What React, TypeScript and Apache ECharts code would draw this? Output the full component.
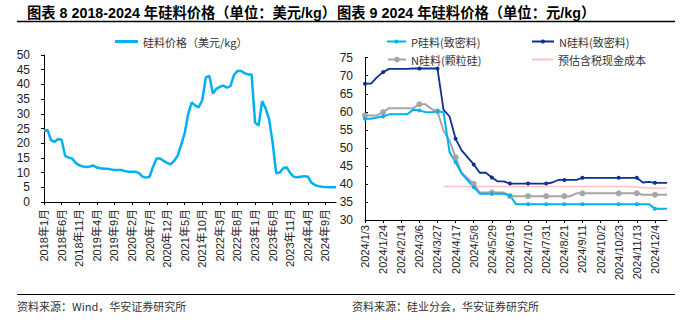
import React, { useEffect, useRef } from "react";
import * as echarts from "echarts";

// ---------- Left chart: 2018-2024 monthly polysilicon price (USD/kg) ----------
const leftYears = [2018, 2019, 2020, 2021, 2022, 2023, 2024];
const leftMonths = [1, 2, 3, 4, 5, 6, 7, 8, 9, 10, 11, 12];
const leftCategories: string[] = [];
leftYears.forEach((y) => leftMonths.forEach((m) => leftCategories.push(`${y}年${m}月`)));

const siliconPriceUSD = [
  24.1, 24.5, 21.0, 20.5, 21.4, 21.2, 15.7, 15.1, 14.8, 13.3, 12.5, 12.1,
  11.9, 12.1, 12.4, 11.7, 11.5, 11.3, 11.3, 11.1, 10.9, 10.9, 10.9, 10.5,
  10.3, 10.3, 10.3, 9.8, 8.6, 8.3, 8.6, 12.0, 14.8, 14.8, 14.0, 13.3,
  12.8, 14.0, 15.7, 19.5, 23.4, 30.0, 33.9, 32.8, 32.2, 34.7, 42.4, 42.9,
  36.9, 38.5, 39.2, 39.6, 38.9, 39.4, 43.2, 44.6, 44.6, 43.8, 43.4, 43.4,
  27.0, 26.0, 34.3, 31.8, 28.1, 20.0, 9.8, 10.0, 11.5, 11.8, 9.8, 8.6,
  8.4, 8.6, 8.8, 8.6, 6.6, 5.8, 5.4, 5.2, 5.1, 5.0, 5.0, 5.0,
];

// ---------- Right chart: 2024 weekly prices (CNY/kg) ----------
const weekDates = [
  "2024/1/3", "2024/1/10", "2024/1/17", "2024/1/24", "2024/1/31", "2024/2/7", "2024/2/14",
  "2024/2/21", "2024/2/28", "2024/3/6", "2024/3/13", "2024/3/20", "2024/3/27", "2024/4/3",
  "2024/4/10", "2024/4/17", "2024/4/24", "2024/5/1", "2024/5/8", "2024/5/15", "2024/5/22",
  "2024/5/29", "2024/6/5", "2024/6/12", "2024/6/19", "2024/6/26", "2024/7/3", "2024/7/10",
  "2024/7/17", "2024/7/24", "2024/7/31", "2024/8/7", "2024/8/14", "2024/8/21", "2024/8/28",
  "2024/9/4", "2024/9/11", "2024/9/18", "2024/9/25", "2024/10/2", "2024/10/9", "2024/10/16",
  "2024/10/23", "2024/10/30", "2024/11/6", "2024/11/13", "2024/11/20", "2024/11/27",
  "2024/12/4", "2024/12/11", "2024/12/18",
];

const pDense = [
  58.1, 58.1, 58.4, 58.7, 59.3, null, null, 59.3, 60.6, 60.4, 59.9, 59.9, 60.1, 59.9,
  48.8, 46.0, 42.9, null, 39.1, 37.3, 37.3, 37.3, 37.3, 37.3, 36.8, 34.4, 34.4, 34.4,
  34.4, 34.4, 34.4, 34.4, 34.4, 34.4, 34.4, 34.4, 34.4, 34.4, 34.4, null, 34.4, 34.4,
  34.4, 34.4, 34.4, 34.4, 34.4, 34.4, 33.1, 33.1, 33.1,
];

const nDense = [
  67.8, 67.8, 69.6, 71.0, 71.9, null, null, 71.9, 72.0, 72.0, 72.0, 72.0, 72.0, 60.6,
  58.7, 52.5, 49.3, null, 45.4, 43.1, 43.1, 41.8, 40.7, 40.7, 40.1, 40.1, 40.1, 40.1,
  40.1, 40.1, 40.1, 40.4, 41.1, 41.1, 41.1, 41.1, 41.7, 41.7, 41.7, null, 41.7, 41.7,
  41.7, 41.7, 41.7, 41.7, 40.4, 40.6, 40.3, 40.3, 40.3,
];

const nGranular = [
  59.0, 59.0, 59.0, 59.9, 61.0, null, null, 61.0, 61.0, 62.1, 62.1, 60.8, 60.1, 54.8,
  52.0, 47.4, 43.1, null, 40.0, 37.6, 37.6, 37.6, 37.6, 37.6, 36.6, 36.6, 36.6, 36.6,
  36.6, 36.6, 36.6, 36.6, 36.6, 36.6, 36.6, 37.4, 37.4, 37.4, 37.4, null, 37.4, 37.4,
  37.4, 37.4, 37.4, 37.4, 37.0, 37.0, 37.0, 37.0, 37.0,
];

const cashCost = [
  null, null, null, null, null, null, null, null, null, null, null, null, null, 39.3,
  39.3, 39.3, 39.3, 39.3, 39.3, 39.3, 39.3, 39.3, 39.3, 39.3, 39.3, 39.3, 39.3, 39.3,
  39.3, 39.3, 39.3, 39.3, 39.3, 39.3, 39.3, 39.3, 39.3, 39.3, 39.3, 39.3, 39.3, 39.3,
  39.3, 39.3, 39.2, 39.1, 39.0, 38.9, 38.8, 38.8, 38.8,
];

const leftYTicks = { min: 0, max: 50, interval: 5 };
const rightYTicks = { min: 30, max: 75, interval: 5 };

const NAMES = {
  left: "硅料价格（美元/kg）",
  p: "P硅料(致密料)",
  n: "N硅料(致密料)",
  g: "N硅料(颗粒硅)",
  c: "预估含税现金成本",
};

const LATIN = "'Liberation Sans', Arial, 'Noto Sans CJK SC', sans-serif";
const CJK = "'Noto Sans CJK SC', 'Liberation Sans', sans-serif";

const LIGHT_BLUE = "#00B0F0";
const DARK_BLUE = "#0D2F8F";
const GRAY = "#A6A6A6";
const PINK = "#FFC2C2";

export default function App() {
  const ref = useRef<HTMLDivElement>(null);

  useEffect(() => {
    document.body.style.margin = "0";
    if (!ref.current) return;
    const chart = echarts.init(ref.current, undefined, { renderer: "svg" });

    const axisLine = { show: true, lineStyle: { color: "#000", width: 1 } };
    const labelStyle = { color: "#222", fontFamily: LATIN, fontSize: 11 };
    const legendText = { fontFamily: CJK, fontSize: 11, color: "#333" };

    const mkLegend = (name: string, left: number, center: number, w: number, h: number, icon?: string) => ({
      data: [icon ? { name, icon } : { name }],
      left,
      top: center - 7,
      padding: 0,
      itemWidth: w,
      itemHeight: h,
      textStyle: legendText,
    });

    chart.setOption({
      animation: false,
      backgroundColor: "#fff",
      grid: [
        { left: 44, top: 55, width: 292, height: 147, containLabel: false },
        { left: 365, top: 57.7, width: 302, height: 162.3, containLabel: false },
      ],
      legend: [
        mkLegend(NAMES.left, 115, 43, 23, 3, "rect"),
        mkLegend(NAMES.p, 386, 43, 19, 5),
        mkLegend(NAMES.g, 387, 61, 18, 7),
        mkLegend(NAMES.n, 531, 43, 22, 5),
        mkLegend(NAMES.c, 532, 61, 21, 2, "rect"),
      ],
      xAxis: [
        {
          type: "category",
          gridIndex: 0,
          data: leftCategories,
          boundaryGap: false,
          axisLine,
          axisTick: { show: true, interval: 4, length: 3, lineStyle: { color: "#000" } },
          axisLabel: { ...labelStyle, rotate: 90, interval: 4, margin: 7 },
          splitLine: { show: false },
        },
        {
          type: "category",
          gridIndex: 1,
          data: weekDates,
          boundaryGap: false,
          axisLine,
          axisTick: { show: true, interval: 2, length: 3, lineStyle: { color: "#000" } },
          axisLabel: { ...labelStyle, rotate: 90, interval: 2, margin: 5 },
          splitLine: { show: false },
        },
      ],
      yAxis: [
        {
          type: "value",
          gridIndex: 0,
          ...leftYTicks,
          axisLine,
          axisTick: { show: true, length: 3, lineStyle: { color: "#000" } },
          axisLabel: { ...labelStyle, fontSize: 12, margin: 14 },
          splitLine: { show: false },
        },
        {
          type: "value",
          gridIndex: 1,
          ...rightYTicks,
          axisLine,
          axisTick: { show: true, inside: true, length: 3, lineStyle: { color: "#000" } },
          axisLabel: { ...labelStyle, fontSize: 12, margin: 12 },
          splitLine: { show: false },
        },
      ],
      series: [
        {
          name: NAMES.left,
          type: "line",
          xAxisIndex: 0,
          yAxisIndex: 0,
          data: siliconPriceUSD,
          symbol: "none",
          lineStyle: { color: LIGHT_BLUE, width: 2.5 },
          itemStyle: { color: LIGHT_BLUE },
        },
        {
          name: NAMES.c,
          type: "line",
          xAxisIndex: 1,
          yAxisIndex: 1,
          data: cashCost,
          symbol: "none",
          lineStyle: { color: PINK, width: 1.5 },
          itemStyle: { color: PINK },
        },
        {
          name: NAMES.g,
          type: "line",
          xAxisIndex: 1,
          yAxisIndex: 1,
          data: nGranular,
          connectNulls: true,
          symbol: "circle",
          symbolSize: 6,
          lineStyle: { color: GRAY, width: 2 },
          itemStyle: { color: GRAY },
        },
        {
          name: NAMES.p,
          type: "line",
          xAxisIndex: 1,
          yAxisIndex: 1,
          data: pDense,
          connectNulls: true,
          symbol: "circle",
          symbolSize: 4,
          lineStyle: { color: LIGHT_BLUE, width: 2 },
          itemStyle: { color: LIGHT_BLUE },
        },
        {
          name: NAMES.n,
          type: "line",
          xAxisIndex: 1,
          yAxisIndex: 1,
          data: nDense,
          connectNulls: true,
          symbol: "circle",
          symbolSize: 4,
          lineStyle: { color: DARK_BLUE, width: 1.8 },
          itemStyle: { color: DARK_BLUE },
        },
      ],
      graphic: [
        {
          type: "text",
          x: 27,
          y: 13,
          style: {
            text: "图表 8 2018-2024 年硅料价格（单位：美元/kg）",
            font: `bold 14.3px ${LATIN}`,
            fill: "#000",
            verticalAlign: "middle",
            align: "left",
          },
        },
        {
          type: "text",
          x: 337,
          y: 13,
          style: {
            text: "图表 9 2024 年硅料价格（单位：元/kg）",
            font: `bold 14.3px ${LATIN}`,
            fill: "#000",
            verticalAlign: "middle",
            align: "left",
          },
        },
        {
          type: "line",
          shape: { x1: 17, y1: 21.5, x2: 675, y2: 21.5 },
          style: { stroke: "#000", lineWidth: 1.3 },
        },
        {
          type: "line",
          shape: { x1: 17, y1: 294.5, x2: 675, y2: 294.5 },
          style: { stroke: "#000", lineWidth: 1 },
        },
        {
          type: "text",
          x: 17,
          y: 306,
          style: {
            text: "资料来源：Wind，华安证券研究所",
            font: `11px ${CJK}`,
            fill: "#333",
            verticalAlign: "middle",
          },
        },
        {
          type: "text",
          x: 352,
          y: 306,
          style: {
            text: "资料来源：硅业分会，华安证券研究所",
            font: `11px ${CJK}`,
            fill: "#333",
            verticalAlign: "middle",
          },
        },
      ],
    });

    return () => chart.dispose();
  }, []);

  return <div ref={ref} style={{ width: 700, height: 329 }} />;
}
